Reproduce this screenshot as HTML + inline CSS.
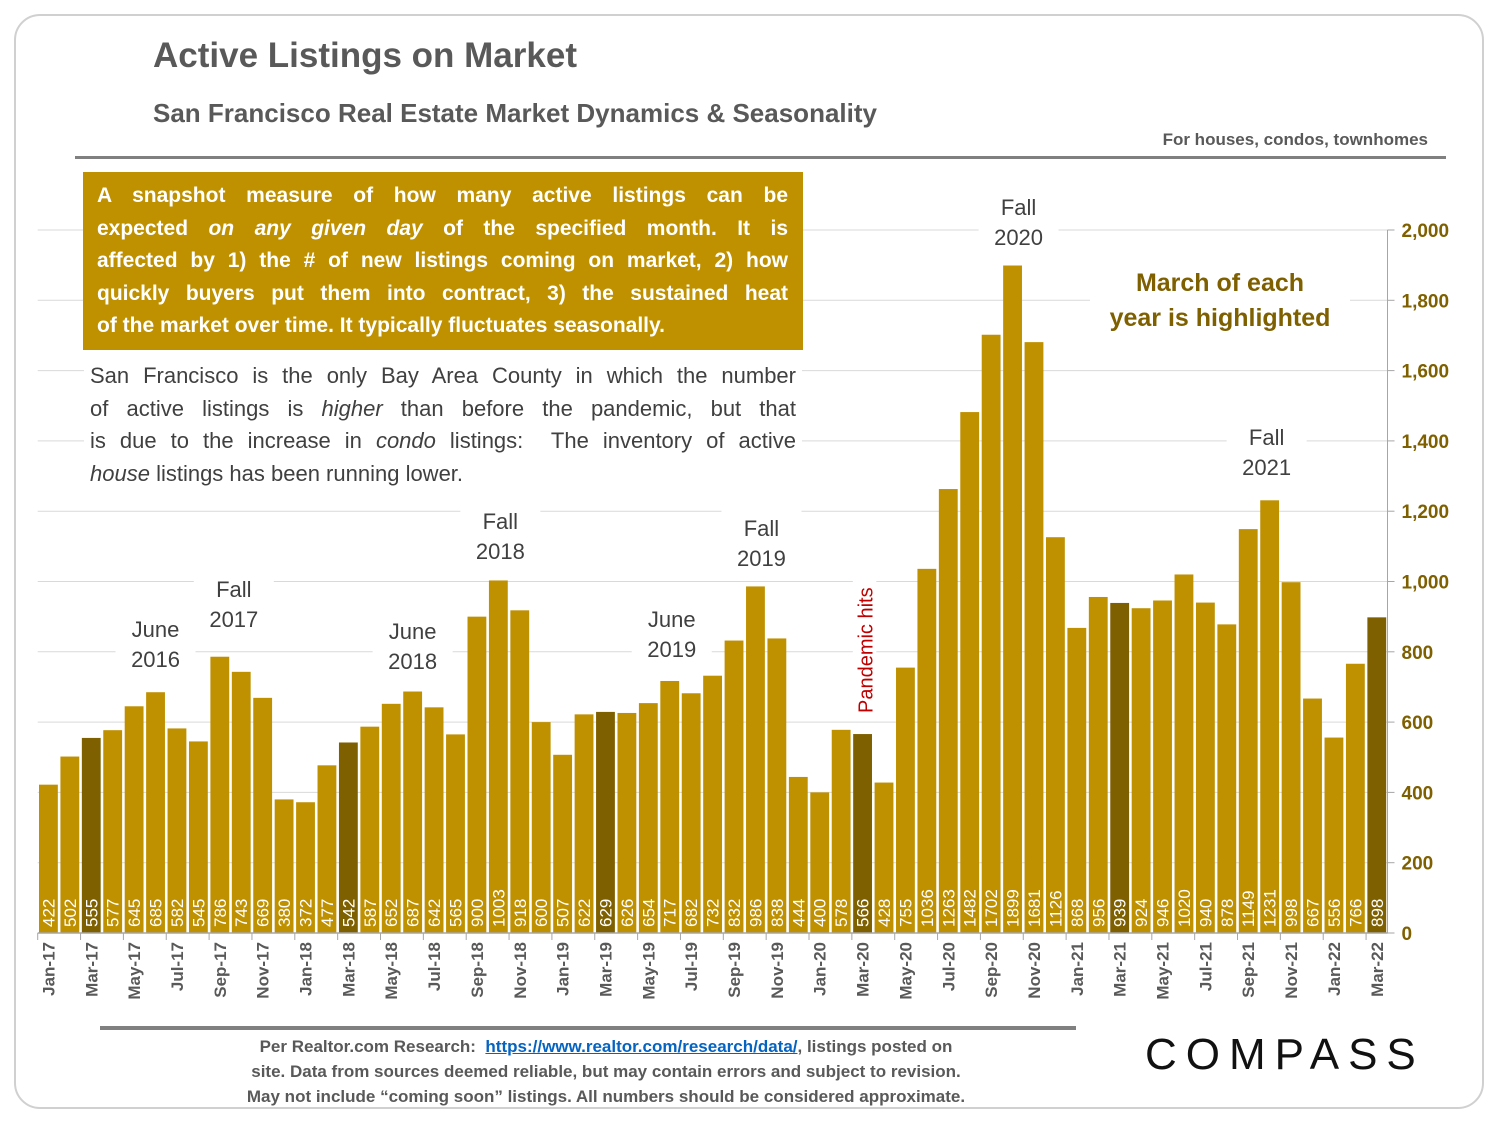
<!DOCTYPE html>
<html><head><meta charset="utf-8">
<style>
body{margin:0;background:#fff;font-family:"Liberation Sans",sans-serif;}
#wrap{position:relative;width:1500px;height:1125px;overflow:hidden;background:#fff;}
.frame{position:absolute;left:14px;top:14px;width:1470px;height:1095px;border:2px solid #d0d0d0;border-radius:26px;box-sizing:border-box;}
.ln{white-space:nowrap;text-align:justify;text-align-last:justify;height:32.5px;line-height:32.5px;}
</style></head>
<body>
<div id="wrap">
<div class="frame"></div>
<div style="position:absolute;left:153px;top:36px;font-size:35px;font-weight:bold;color:#595959;">Active Listings on Market</div>
<div style="position:absolute;left:153px;top:98px;font-size:26px;font-weight:bold;color:#595959;">San Francisco Real Estate Market Dynamics &amp; Seasonality</div>
<div style="position:absolute;right:72px;top:130px;font-size:17px;font-weight:bold;color:#595959;">For houses, condos, townhomes</div>
<div style="position:absolute;left:75px;top:156px;width:1371px;height:3px;background:#808080;"></div>

<svg id="chart" width="1500" height="1125" style="position:absolute;left:0;top:0;"></svg>

<div style="position:absolute;left:83px;top:172px;width:720px;height:178px;background:#bf9000;color:#fff;font-size:21px;font-weight:bold;box-sizing:border-box;padding:8px 15px 0 14px;">
<div class="ln">A snapshot measure of how many active listings can be</div>
<div class="ln">expected <i>on any given day</i> of the specified month. It is</div>
<div class="ln">affected by 1) the # of new listings coming on market, 2) how</div>
<div class="ln">quickly buyers put them into contract, 3) the sustained heat</div>
<div class="ln" style="text-align-last:left;">of the market over time. It typically fluctuates seasonally.</div>
</div>
<div style="position:absolute;left:84px;top:360px;width:718px;background:#fff;color:#404040;font-size:22px;box-sizing:border-box;padding:0 6px;">
<div class="ln">San Francisco is the only Bay Area County in which the number</div>
<div class="ln">of active listings is <i>higher</i> than before the pandemic, but that</div>
<div class="ln">is due to the increase in <i>condo</i> listings:&nbsp; The inventory of active</div>
<div class="ln" style="text-align-last:left;"><i>house</i> listings has been running lower.</div>
</div>

<div style="position:absolute;left:1090px;top:266px;width:260px;text-align:center;font-size:25px;font-weight:bold;color:#7f6000;line-height:35px;background:#fff;">March of each<br>year is highlighted</div>

<div style="position:absolute;left:100px;top:1026px;width:976px;height:4px;background:#808080;"></div>
<div style="position:absolute;left:206px;top:1034px;width:800px;text-align:center;font-size:17px;font-weight:bold;color:#595959;line-height:25px;">Per Realtor.com Research:&nbsp; <span style="color:#0563c1;text-decoration:underline;">https://www.realtor.com/research/data/</span>, listings posted on<br>site. Data from sources deemed reliable, but may contain errors and subject to revision.<br>May not include “coming soon” listings. All numbers should be considered approximate.</div>
<div style="position:absolute;left:1145px;top:1030px;font-size:44px;letter-spacing:9px;color:#111;">COMPASS</div>
</div>

<script>
const months = ["Jan-17","Feb-17","Mar-17","Apr-17","May-17","Jun-17","Jul-17","Aug-17","Sep-17","Oct-17","Nov-17","Dec-17",
"Jan-18","Feb-18","Mar-18","Apr-18","May-18","Jun-18","Jul-18","Aug-18","Sep-18","Oct-18","Nov-18","Dec-18",
"Jan-19","Feb-19","Mar-19","Apr-19","May-19","Jun-19","Jul-19","Aug-19","Sep-19","Oct-19","Nov-19","Dec-19",
"Jan-20","Feb-20","Mar-20","Apr-20","May-20","Jun-20","Jul-20","Aug-20","Sep-20","Oct-20","Nov-20","Dec-20",
"Jan-21","Feb-21","Mar-21","Apr-21","May-21","Jun-21","Jul-21","Aug-21","Sep-21","Oct-21","Nov-21","Dec-21",
"Jan-22","Feb-22","Mar-22"];
const listings = [422,502,555,577,645,685,582,545,786,743,669,380,372,477,542,587,652,687,642,565,900,1003,918,600,507,622,629,626,654,717,682,732,832,986,838,444,400,578,566,428,755,1036,1263,1482,1702,1899,1681,1126,868,956,939,924,946,1020,940,878,1149,1231,998,667,556,766,898];
const yTicks = [0,200,400,600,800,1000,1200,1400,1600,1800,2000];
const annotations = [
 {label:["June","2016"], at:"Jun-17", dx:0, y:667},
 {label:["Fall","2017"], at:"Sep-17", dx:14, y:627},
 {label:["June","2018"], at:"Jun-18", dx:0, y:669},
 {label:["Fall","2018"], at:"Oct-18", dx:2, y:559},
 {label:["June","2019"], at:"Jun-19", dx:2, y:657},
 {label:["Fall","2019"], at:"Oct-19", dx:6, y:566},
 {label:["Fall","2020"], at:"Oct-20", dx:6, y:245},
 {label:["Fall","2021"], at:"Oct-21", dx:-3, y:475}
];

const svg = document.getElementById('chart');
const NS = 'http://www.w3.org/2000/svg';
const x0 = 37.7, x1 = 1387.5, y0 = 933, yTop = 230, yMax = 2000;
const band = (x1 - x0) / months.length;
const xPos = i => x0 + i * band;
const yPos = v => y0 - (v / yMax) * (y0 - yTop);
function mk(tag, attrs){const e=document.createElementNS(NS,tag);for(const k in attrs)e.setAttribute(k,attrs[k]);svg.appendChild(e);return e;}

yTicks.forEach(t=>{
  if(t>0){const g=mk('line',{x1:x0,x2:x1,y1:yPos(t),y2:yPos(t),stroke:'#d9d9d9','stroke-width':1});
  
  }
  const tk=mk('line',{x1:x1,x2:x1+7,y1:yPos(t),y2:yPos(t),stroke:'#a6a6a6','stroke-width':1});
  
  
  const lb=mk('text',{x:x1+14,y:yPos(t)+7,'font-size':19,'font-weight':'bold',fill:'#7f6000','font-family':'Liberation Sans, sans-serif'});
  lb.textContent=t.toLocaleString('en-US');
  
  
});
const ya=mk('line',{x1:x1,x2:x1,y1:yTop,y2:y0,stroke:'#a6a6a6','stroke-width':1});



listings.forEach((v,i)=>{
  const hl = months[i].startsWith('Mar');
  const bx = xPos(i)+1.3, bw = band-2.6;
  const r=mk('rect',{x:bx,y:yPos(v),width:bw,height:y0-yPos(v),fill:hl?'#7f6000':'#bf9000'});
  
  
  const cx=xPos(i)+band/2+6;
  const t=mk('text',{x:0,y:0,transform:`translate(${cx},927) rotate(-90)`,'font-size':17,fill:'#fff','font-family':'Liberation Sans, sans-serif'});
  t.textContent=v;
  
  
});
const xa=mk('line',{x1:x0,x2:x1,y1:y0,y2:y0,stroke:'#a6a6a6','stroke-width':1.5});


months.forEach((m,i)=>{
  if(i%2===0){
    const tk=mk('line',{x1:xPos(i),x2:xPos(i),y1:y0,y2:y0+7,stroke:'#a6a6a6','stroke-width':1});
    
    
    const cx=xPos(i)+band/2+6;
    const t=mk('text',{x:0,y:0,transform:`translate(${cx},942) rotate(-90)`,'text-anchor':'end','font-size':17,'font-weight':'bold',fill:'#595959','font-family':'Liberation Sans, sans-serif'});
    t.textContent=m;
    
    
  }
});
annotations.forEach(a=>{
  const i=months.indexOf(a.at);
  const cx=xPos(i)+band/2+a.dx;
  const bg=mk('rect',{x:cx-40,y:a.y-58,width:80,height:64,fill:'#fff'});
  
  
  a.label.forEach((s,k)=>{
    const t=mk('text',{x:cx,y:a.y-30+k*30,'text-anchor':'middle','font-size':22,fill:'#404040','font-family':'Liberation Sans, sans-serif'});
    t.textContent=s;
    
    
  });
});
const pi=months.indexOf('Mar-20');
const pbg=mk('rect',{x:xPos(pi)+1,y:568,width:band+2,height:146,fill:'#fff'});


const pt=mk('text',{x:0,y:0,transform:`translate(${xPos(pi)+band/2+10},713) rotate(-90)`,'font-size':20,fill:'#c00000','font-family':'Liberation Sans, sans-serif'});
pt.textContent='Pandemic hits';


</script>
</body></html>
